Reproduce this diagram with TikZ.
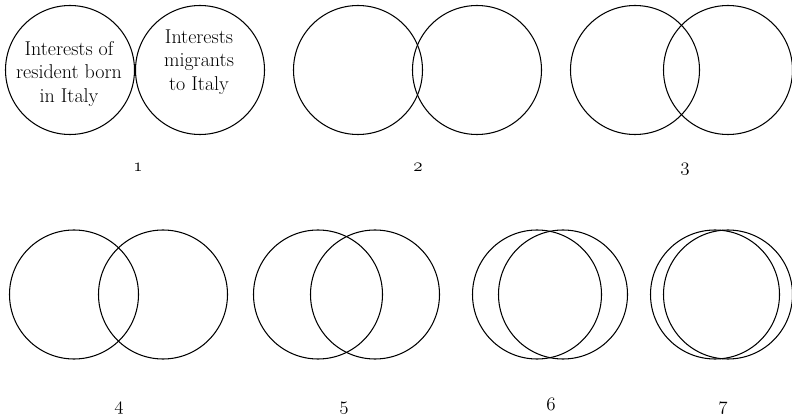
\RequirePackage{fix-cm}
\documentclass[tikz,border=0pt]{standalone}
\usepackage{fontspec}
\setmainfont{Latin Modern Roman}
\newcommand{\osnum}[1]{{\usefont{OML}{cmm}{m}{it}#1}}
\begin{document}
\begin{tikzpicture}[x=1pt,y=1pt,
  venn/.style={circle, draw, line width=1.05pt, minimum size=129pt, inner sep=0pt},
  lbl/.style={align=center, font=\fontsize{20}{23.5}\selectfont, inner sep=0pt},
  num/.style={anchor=base, font=\fontsize{19}{20}\selectfont, inner sep=0pt}]
\useasboundingbox (0,0) rectangle (792,418);
% set 1
\node[venn] (a1) at (70,348) {};
\node[venn] (b1) at (200,348) {};
\node[lbl] (ta1) at (69,344) {Interests of\\resident born\\in Italy};
\node[lbl] (tb1) at (199,356) {Interests\\migrants\\to Italy};
\node[num] (n1) at (138,246) {\osnum{1}};
% set 2
\node[venn] (a2) at (358,348) {};
\node[venn] (b2) at (477,348) {};
\node[num] (n2) at (418,246) {\osnum{2}};
% set 3
\node[venn] (a3) at (635,348) {};
\node[venn] (b3) at (728,348) {};
\node[num] (n3) at (685,246) {\osnum{3}};
% set 4
\node[venn] (a4) at (74,123.5) {};
\node[venn] (b4) at (163,123.5) {};
\node[num] (n4) at (119,8) {\osnum{4}};
% set 5
\node[venn] (a5) at (318,123.5) {};
\node[venn] (b5) at (375,123.5) {};
\node[num] (n5) at (344,8) {\osnum{5}};
% set 6
\node[venn] (a6) at (537,123.5) {};
\node[venn] (b6) at (563,123.5) {};
\node[num] (n6) at (551,8) {\osnum{6}};
% set 7
\node[venn] (a7) at (715,123.5) {};
\node[venn] (b7) at (728,123.5) {};
\node[num] (n7) at (723,8) {\osnum{7}};
\end{tikzpicture}
\end{document}
